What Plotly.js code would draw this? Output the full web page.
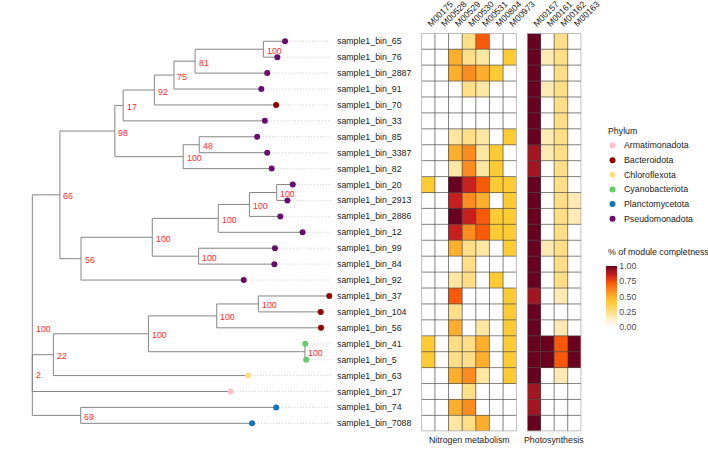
<!DOCTYPE html>
<html>
<head>
<meta charset="utf-8">
<script src="https://cdn.plot.ly/plotly-3.0.1.min.js"></script>
<style>
  html, body { margin: 0; padding: 0; background: #ffffff; }
  #chart { width: 708px; height: 458px; }
</style>
</head>
<body>
<div id="chart"></div>
<script>
// ---- Tree tips (top to bottom) ----
const tipLabels = [
  'sample1_bin_65', 'sample1_bin_76', 'sample1_bin_2887', 'sample1_bin_91', 'sample1_bin_70',
  'sample1_bin_33', 'sample1_bin_85', 'sample1_bin_3387', 'sample1_bin_82', 'sample1_bin_20',
  'sample1_bin_2913', 'sample1_bin_2886', 'sample1_bin_12', 'sample1_bin_99', 'sample1_bin_84',
  'sample1_bin_92', 'sample1_bin_37', 'sample1_bin_104', 'sample1_bin_56', 'sample1_bin_41',
  'sample1_bin_5', 'sample1_bin_63', 'sample1_bin_17', 'sample1_bin_74', 'sample1_bin_7088'
];
const tipPhylum = [
  'Pseudomonadota', 'Pseudomonadota', 'Pseudomonadota', 'Pseudomonadota', 'Bacteroidota',
  'Pseudomonadota', 'Pseudomonadota', 'Pseudomonadota', 'Pseudomonadota', 'Pseudomonadota',
  'Pseudomonadota', 'Pseudomonadota', 'Pseudomonadota', 'Pseudomonadota', 'Pseudomonadota',
  'Pseudomonadota', 'Bacteroidota', 'Bacteroidota', 'Bacteroidota', 'Cyanobacteriota',
  'Cyanobacteriota', 'Chloroflexota', 'Armatimonadota', 'Planctomycetota', 'Planctomycetota'
];
const tipDepth = [
  0.851, 0.825, 0.791, 0.771, 0.821,
  0.783, 0.757, 0.791, 0.806, 0.877,
  0.859, 0.835, 0.910, 0.817, 0.815,
  0.712, 1.000, 0.971, 0.972, 0.919,
  0.922, 0.727, 0.668, 0.821, 0.740
];
const tipParent = [
  'n65_76', 'n65_76', 'n81', 'n75', 'n92',
  'n17', 'n48', 'n48', 'nB100', 'n20',
  'n20', 'n2886', 'n12', 'n99', 'n99',
  'n56', 'n37', 'n37', 'nB56', 'n41',
  'n41', 'n22', 'n2', 'n69', 'n69'
];

// ---- Internal nodes ----
const nodeIds     = ['n65_76', 'n81', 'n75', 'n92', 'n17', 'n48', 'nB100', 'n98', 'n20', 'n2886', 'n12', 'n99',
                     'nC100', 'n56', 'n66', 'n37', 'nB56', 'n41', 'nBC', 'n22', 'n2', 'n69', 'root'];
const nodeParent  = ['n81', 'n75', 'n92', 'n17', 'n98', 'nB100', 'n98', 'n66', 'n2886', 'n12', 'nC100', 'nC100',
                     'n56', 'n66', 'root', 'nB56', 'nBC', 'nBC', 'n22', 'n2', 'root', 'root', null];
const nodeDepth   = [0.778, 0.548, 0.477, 0.411, 0.306, 0.562, 0.508, 0.278, 0.823, 0.731, 0.626, 0.560,
                     0.404, 0.164, 0.093, 0.761, 0.621, 0.918, 0.391, 0.071, 0.000, 0.163, 0.000];
const nodeSupport = [100, 81, 75, 92, 17, 48, 100, 98, 100, 100, 100, 100,
                     100, 56, 66, 100, 100, 100, 100, 22, 2, 69, 100];

// ---- Phylum palette ----
const phylumNames  = ['Armatimonadota', 'Bacteroidota', 'Chloroflexota', 'Cyanobacteriota', 'Planctomycetota', 'Pseudomonadota'];
const phylumColors = ['#FFC0CB', '#8B0000', '#FBDD84', '#66CC66', '#1A73B8', '#680C6E'];

// ---- KEGG module completeness ----
const nitrogenModules = ['M00175', 'M00528', 'M00529', 'M00530', 'M00531', 'M00804', 'M00973'];
const photoModules    = ['M00157', 'M00161', 'M00162', 'M00163'];
const nitrogenValues = [
  [0, 0, 0, 0.25, 0.72, 0, 0],
  [0, 0, 0.5, 0.25, 0.2, 0, 0.4],
  [0, 0, 0.5, 0.6, 0.5, 0.4, 0],
  [0, 0, 0, 0.25, 0.2, 0, 0],
  [0, 0, 0, 0, 0, 0, 0],
  [0, 0, 0, 0, 0, 0, 0],
  [0, 0, 0.2, 0.25, 0.2, 0, 0.4],
  [0, 0, 0.5, 0.6, 0.2, 0.4, 0],
  [0, 0, 0.2, 0.6, 0.2, 0.4, 0],
  [0.4, 0, 1, 0.85, 0.72, 0.4, 0.4],
  [0, 0, 0.85, 0.6, 0.5, 0, 0.4],
  [0, 0, 1, 0.85, 0.72, 0.4, 0.4],
  [0, 0, 0.85, 0.6, 0.72, 0.4, 0.4],
  [0, 0, 0.5, 0.25, 0.2, 0, 0.4],
  [0, 0, 0, 0.25, 0, 0, 0],
  [0, 0, 0.2, 0.25, 0, 0.4, 0],
  [0, 0, 0.72, 0, 0, 0, 0.4],
  [0, 0, 0.25, 0, 0, 0, 0.4],
  [0, 0, 0.5, 0, 0.2, 0, 0.4],
  [0.4, 0, 0.25, 0.25, 0.5, 0, 0.4],
  [0.4, 0, 0.25, 0.25, 0.5, 0, 0.4],
  [0, 0, 0.5, 0.6, 0.2, 0, 0.4],
  [0, 0, 0, 0.25, 0, 0, 0],
  [0, 0, 0.5, 0.6, 0, 0, 0],
  [0, 0, 0.2, 0.25, 0.5, 0, 0]
];
const photoValues = [
  [1, 0, 0.25, 0],
  [1, 0.17, 0.25, 0],
  [1, 0, 0.25, 0],
  [1, 0.17, 0.25, 0],
  [1, 0, 0.25, 0],
  [1, 0, 0.25, 0],
  [1, 0.17, 0.25, 0],
  [0.92, 0.17, 0.25, 0],
  [0.92, 0, 0.25, 0],
  [1, 0, 0.25, 0],
  [1, 0, 0.25, 0.17],
  [1, 0, 0.25, 0.17],
  [1, 0, 0.25, 0],
  [1, 0.17, 0.25, 0],
  [1, 0, 0.25, 0],
  [1, 0, 0.25, 0],
  [0.92, 0, 0.17, 0],
  [1, 0, 0, 0],
  [1, 0, 0.17, 0],
  [1, 1, 0.72, 1],
  [1, 1, 0.72, 1],
  [1, 0, 0.17, 0],
  [0.92, 0, 0, 0],
  [0.92, 0, 0, 0],
  [1, 0, 0, 0]
];
const completenessTicks = [0, 0.25, 0.5, 0.75, 1];

// ---- Styling ----
const FONT = 'Liberation Sans, Arial, Helvetica, sans-serif';
const FS = 8.8;
const W = 708, H = 458;
const heatScale = [
  [0.00, '#FFFFFF'], [0.17, '#FEEAB4'], [0.25, '#FEDE86'], [0.40, '#FECB35'],
  [0.50, '#FDAE2C'], [0.60, '#FB8C20'], [0.72, '#F95A0A'], [0.85, '#C8201E'],
  [0.92, '#A11620'], [1.00, '#690020']
];
const alignDepth = 1.005;   // end of the dotted tip connectors
const labelDepth = 1.0175;  // where tip labels start

// ---- Tree layout: tips get row positions, internal nodes the mean of their children ----
const pos = {};
tipLabels.forEach((t, i) => { pos[t] = { x: tipDepth[i], y: i + 1 }; });
nodeIds.forEach((n, i) => { pos[n] = { x: nodeDepth[i] }; });
const parentOf = {};
tipLabels.forEach((t, i) => { parentOf[t] = tipParent[i]; });
nodeIds.forEach((n, i) => { if (nodeParent[i]) parentOf[n] = nodeParent[i]; });
const children = {};
Object.keys(parentOf).forEach(k => { const p = parentOf[k]; (children[p] = children[p] || []).push(k); });
function yOf(n) {
  if (pos[n].y !== undefined) return pos[n].y;
  const c = children[n];
  pos[n].y = c.reduce((s, k) => s + yOf(k), 0) / c.length;
  return pos[n].y;
}
nodeIds.forEach(yOf);

// branch segments (rectangular layout)
const bx = [], by = [];
Object.keys(parentOf).forEach(k => {
  const p = parentOf[k];
  bx.push(pos[p].x, pos[k].x, null); by.push(pos[k].y, pos[k].y, null);
});
nodeIds.forEach(n => {
  const ys = children[n].map(k => pos[k].y);
  bx.push(pos[n].x, pos[n].x, null); by.push(Math.min(...ys), Math.max(...ys), null);
});

// dotted connectors from tips to the aligned labels
const dx = [], dy = [];
tipLabels.forEach((t, i) => { dx.push(tipDepth[i], alignDepth, null); dy.push(i + 1, i + 1, null); });

const rows = tipLabels.map((t, i) => i + 1);
const colorOf = {};
phylumNames.forEach((p, i) => { colorOf[p] = phylumColors[i]; });

const traces = [
  { type: 'scatter', mode: 'lines', x: dx, y: dy, xaxis: 'x', yaxis: 'y',
    line: { color: '#b5b5b5', width: 0.7, dash: '1px,2px' }, hoverinfo: 'skip', showlegend: false },
  { type: 'scatter', mode: 'lines', x: bx, y: by, xaxis: 'x', yaxis: 'y',
    line: { color: '#858585', width: 1 }, hoverinfo: 'skip', showlegend: false },
  { type: 'scatter', mode: 'markers', x: tipDepth, y: rows, xaxis: 'x', yaxis: 'y',
    marker: { size: 6, color: tipPhylum.map(p => colorOf[p]) }, hoverinfo: 'skip', showlegend: false },
  { type: 'heatmap', x: nitrogenModules.map((m, i) => i), y: rows, z: nitrogenValues,
    xaxis: 'x2', yaxis: 'y', zmin: 0, zmax: 1, colorscale: heatScale, hoverinfo: 'skip',
    showscale: true,
    colorbar: {
      thickness: 11, thicknessmode: 'pixels', len: 61, lenmode: 'pixels',
      x: 606 / W, xanchor: 'left', y: 1 - 296.5 / H, yanchor: 'middle',
      xpad: 0, ypad: 0, outlinewidth: 0, ticks: '',
      tickvals: completenessTicks, ticktext: completenessTicks.map(v => v.toFixed(2)),
      tickfont: { family: FONT, size: FS, color: '#4d4d4d' }
    } },
  { type: 'heatmap', x: photoModules.map((m, i) => i), y: rows, z: photoValues,
    xaxis: 'x3', yaxis: 'y', zmin: 0, zmax: 1, colorscale: heatScale, hoverinfo: 'skip', showscale: false },
  { type: 'scatter', mode: 'markers', x: phylumNames.map(() => 612.5), y: phylumNames.map((p, i) => 145.5 + 14.65 * i),
    xaxis: 'x4', yaxis: 'y4', marker: { size: 6, color: phylumColors }, hoverinfo: 'skip', showlegend: false }
];

// ---- Annotations ----
const annotations = [];
tipLabels.forEach((t, i) => annotations.push({
  xref: 'x', yref: 'y', x: labelDepth, y: i + 1, text: t, showarrow: false,
  xanchor: 'left', yanchor: 'middle', font: { family: FONT, size: FS, color: '#1a1a1a' }
}));
nodeIds.forEach((n, i) => annotations.push({
  xref: 'x', yref: 'y', x: pos[n].x, y: pos[n].y, text: String(nodeSupport[i]), showarrow: false,
  xanchor: 'left', yanchor: 'middle', xshift: 1.5, yshift: -1.5,
  font: { family: FONT, size: FS, color: '#ff2b2b' }
}));
annotations.push({ xref: 'x2 domain', yref: 'paper', x: 0.5, y: 1 - 440 / H, text: 'Nitrogen metabolism',
  showarrow: false, xanchor: 'center', yanchor: 'middle', font: { family: FONT, size: FS, color: '#1a1a1a' } });
annotations.push({ xref: 'x3 domain', yref: 'paper', x: 0.5, y: 1 - 440 / H, text: 'Photosynthesis',
  showarrow: false, xanchor: 'center', yanchor: 'middle', font: { family: FONT, size: FS, color: '#1a1a1a' } });
annotations.push({ xref: 'x4', yref: 'y4', x: 606, y: 131, text: 'Phylum',
  showarrow: false, xanchor: 'left', yanchor: 'middle', font: { family: FONT, size: FS, color: '#1a1a1a' } });
phylumNames.forEach((p, i) => annotations.push({
  xref: 'x4', yref: 'y4', x: 622, y: 145.5 + 14.65 * i, text: p, showarrow: false,
  xanchor: 'left', yanchor: 'middle', font: { family: FONT, size: FS, color: '#1a1a1a' }
}));
annotations.push({ xref: 'paper', yref: 'paper', x: 606 / W, y: 1 - 252 / H, text: '% of module completness',
  showarrow: false, xanchor: 'left', yanchor: 'middle', font: { family: FONT, size: FS, color: '#1a1a1a' } });

// ---- Heatmap cell borders ----
const shapes = [];
function gridFor(xref, nCols) {
  const nRows = tipLabels.length;
  for (let c = 1; c < nCols; c++) {
    shapes.push({ type: 'line', xref, yref: 'y', x0: c - 0.5, x1: c - 0.5, y0: 0.5, y1: nRows + 0.5,
      line: { color: '#4a4a4a', width: 0.7 }, layer: 'above' });
  }
  for (let r = 1; r < nRows; r++) {
    shapes.push({ type: 'line', xref, yref: 'y', x0: -0.5, x1: nCols - 0.5, y0: r + 0.5, y1: r + 0.5,
      line: { color: '#4a4a4a', width: 0.7 }, layer: 'above' });
  }
  shapes.push({ type: 'rect', xref, yref: 'y', x0: -0.5, x1: nCols - 0.5, y0: 0.5, y1: nRows + 0.5,
    line: { color: '#a8a8a8', width: 1.5 }, layer: 'above' });
}
gridFor('x2', nitrogenModules.length);
gridFor('x3', photoModules.length);

// ---- Axes ----
const treeDomain = [0, 0.5];
const pxPerUnit = 297, rootPx = 32.3;
const treeR0 = -rootPx / pxPerUnit;
const treeR1 = treeR0 + (W * (treeDomain[1] - treeDomain[0])) / pxPerUnit;
const yDomain = [1 - 431.3 / H, 1 - 33.3 / H];

const hidden = { visible: false, showgrid: false, zeroline: false, fixedrange: true };
const moduleAxis = (domain, names) => ({
  domain, range: [-0.5, names.length - 0.5], anchor: 'y', side: 'top',
  tickvals: names.map((m, i) => i), ticktext: names, tickangle: -45, ticks: '',
  showgrid: false, zeroline: false, showline: false, ticklabelstandoff: 2,
  tickfont: { family: FONT, size: FS, color: '#1a1a1a' }
});

const layout = {
  width: W, height: H,
  margin: { l: 0, r: 0, t: 0, b: 0 },
  paper_bgcolor: '#ffffff', plot_bgcolor: '#ffffff',
  showlegend: false,
  font: { family: FONT, size: FS, color: '#1a1a1a' },
  xaxis: Object.assign({ domain: treeDomain, range: [treeR0, treeR1], anchor: 'y' }, hidden),
  yaxis: Object.assign({ domain: yDomain, range: [tipLabels.length + 0.5, 0.5], anchor: 'x' }, hidden),
  xaxis2: moduleAxis([421.3 / W, 516.7 / W], nitrogenModules),
  xaxis3: moduleAxis([527 / W, 581.3 / W], photoModules),
  xaxis4: Object.assign({ domain: [600 / W, 700 / W], range: [600, 700], anchor: 'y4' }, hidden),
  yaxis4: Object.assign({ domain: [1 - 240 / H, 1 - 120 / H], range: [240, 120], anchor: 'x4' }, hidden),
  annotations, shapes
};

Plotly.newPlot('chart', traces, layout, { staticPlot: true, displayModeBar: false });
</script>
</body>
</html>
